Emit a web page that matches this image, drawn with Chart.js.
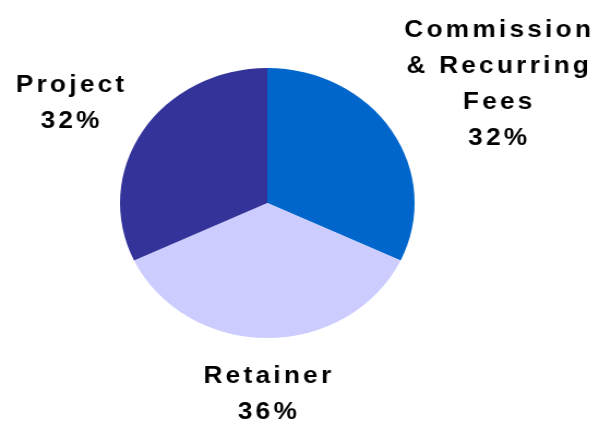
<!DOCTYPE html>
<html>
<head>
<meta charset="utf-8">
<title>Revenue mix</title>
<script src="https://cdn.jsdelivr.net/npm/chart.js@4/dist/chart.umd.min.js"></script>
<style>
    html, body { margin: 0; padding: 0; background: #ffffff; }
    #mix { display: block; }
</style>
</head>
<body>
<!-- the pie is drawn a little wider than tall, so the canvas is stretched sideways -->
<canvas id="mix" width="560" height="424" style="width: 611px; height: 424px;"></canvas>
<script>
// slices, clockwise from 12 o'clock
var categories = [
    ["Commission", "& Recurring", "Fees"],
    ["Retainer"],
    ["Project"],
];
var shares = [32, 36, 32];
var sliceColors = ["#0066cc", "#ccccff", "#333399"];

// text block next to each slice: name lines plus its percentage
var sliceLabels = {
    id: "sliceLabels",
    afterDatasetsDraw: function (chart) {
        var ctx = chart.ctx;
        var meta = chart.getDatasetMeta(0);
        var total = shares.reduce(function (a, b) { return a + b; }, 0);
        var capHeight = 17;
        var lineGap = 36;

        ctx.save();
        ctx.font = "bold 24px 'Liberation Sans', Arial, sans-serif";
        ctx.letterSpacing = "3px";
        ctx.fillStyle = "#000000";
        ctx.textAlign = "center";
        ctx.textBaseline = "alphabetic";

        meta.data.forEach(function (arc, i) {
            var lines = categories[i].concat([Math.round(shares[i] / total * 100) + "%"]);
            var w = Math.max.apply(null, lines.map(function (l) { return ctx.measureText(l).width; }));
            var h = capHeight + lineGap * (lines.length - 1);
            var mid = (arc.startAngle + arc.endAngle) / 2;
            var dist = arc.outerRadius + 28;
            var cx = arc.x + Math.cos(mid) * (dist + w / 2);
            var cy = arc.y + Math.sin(mid) * (dist + h / 2);
            var top = cy - h / 2;
            lines.forEach(function (line, j) {
                ctx.fillText(line, cx + 1.5, top + capHeight + j * lineGap);
            });
        });
        ctx.restore();
    },
};

var ctx = document.getElementById("mix").getContext("2d");

var mixChart = new Chart(ctx, {
    type: "pie",
    data: {
        labels: categories.map(function (c) { return c.join(" "); }),
        datasets: [
            {
                data: shares,
                backgroundColor: sliceColors,
                borderWidth: 0,
            },
        ],
    },
    options: {
        responsive: false,
        devicePixelRatio: 1,
        animation: false,
        layout: {
            padding: { top: 68, bottom: 86, left: 110, right: 180 },
        },
        plugins: {
            legend: { display: false },
            tooltip: { enabled: false },
        },
    },
    plugins: [sliceLabels],
});
</script>
</body>
</html>
